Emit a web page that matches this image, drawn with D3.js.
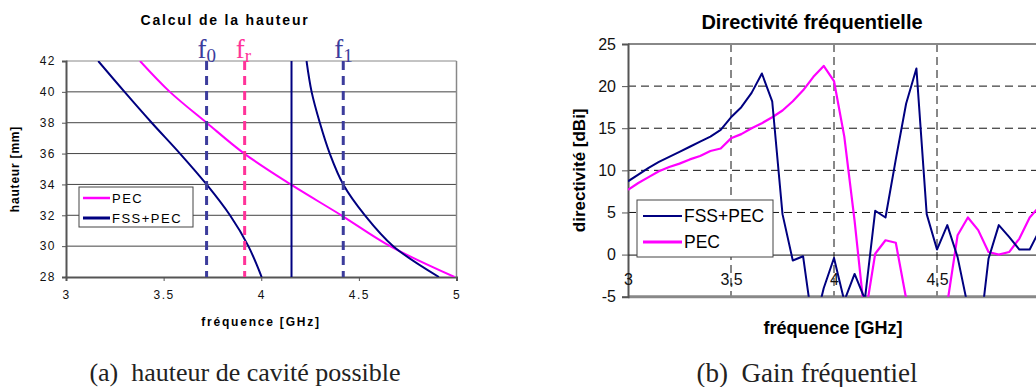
<!DOCTYPE html>
<html>
<head>
<meta charset="utf-8">
<script src="https://cdn.jsdelivr.net/npm/d3@7"></script>
<style>
    body { margin: 0; background: #fff; }
    text { font-family: "Liberation Sans", Arial, sans-serif; }
</style>
</head>
<body>
<div id="figure"></div>
<script>
// ---- (a) cavity height vs frequency ----
var heights = [42, 40, 38, 36, 34, 32, 30, 28];            // mm
var pecFreq = [3.379, 3.532, 3.72, 3.913, 4.151, 4.41, 4.66, 4.99];
var fssLowFreq = [3.165, 3.30, 3.439, 3.584, 3.72, 3.84, 3.934, 4.002];
var fssHighFreq = [4.232, 4.258, 4.30, 4.351, 4.42, 4.531, 4.676, 4.91];
var fssCutoff = 4.155;                                      // vertical asymptote
var markers = [
    {name: "0", f: 3.72, color: "#3c3c9c"},
    {name: "r", f: 3.915, color: "#ff3399"},
    {name: "1", f: 4.42, color: "#3c3c9c"}
];
var heightTicks = [28, 30, 32, 34, 36, 38, 40, 42];
var freqTicksA = [3, 3.5, 4, 4.5, 5];

// ---- (b) directivity vs frequency ----
var freqs = [3.00, 3.05, 3.10, 3.15, 3.20, 3.25, 3.30, 3.35, 3.40, 3.45,
             3.50, 3.55, 3.60, 3.65, 3.70, 3.75, 3.80, 3.85, 3.90, 3.95,
             4.00, 4.05, 4.10, 4.15, 4.20, 4.25, 4.30, 4.35, 4.40, 4.45,
             4.50, 4.55, 4.60, 4.65, 4.70, 4.75, 4.80, 4.85, 4.90, 4.95, 5.00];
var dirFss = [8.7, 9.5, 10.3, 11.0, 11.6, 12.2, 12.8, 13.4, 14.0, 14.8,
              16.3, 17.5, 19.2, 21.5, 18.2, 4.8, -0.7, -0.2, -9.0, -4.0,
              -0.4, -5.5, -2.3, -5.3, 5.2, 4.4, 11.3, 17.9, 22.1, 4.8,
              0.6, 3.5, -0.3, -6.2, -11.0, -0.5, 3.5, 2.1, 0.6, 0.6, 3.0];
var dirPec = [7.7, 8.5, 9.2, 9.9, 10.4, 10.8, 11.3, 11.7, 12.3, 12.6,
              13.8, 14.3, 15.0, 15.6, 16.3, 17.1, 18.2, 19.5, 21.1, 22.4,
              20.6, 14.0, 4.0, -7.5, 0.1, 1.7, 1.4, -5.2, -9.0, -12.0,
              -10.0, -5.8, 2.3, 4.4, 2.9, 0.3, 0.0, 0.3, 1.9, 4.4, 5.8];
var dirTicks = [-5, 0, 5, 10, 15, 20, 25];
var freqTicksB = [3, 3.5, 4, 4.5];

function init() {
    var w = 1036;
    var h = 387;
    var navy = "#000080";
    var magenta = "#ff00ff";

    var svg = d3.select("#figure")
                .append("svg")
                .attr("width", w)
                .attr("height", h);

    var defs = svg.append("defs");

    //==================== chart (a) ====================
    var xa = d3.scaleLinear().domain([3, 5]).range([66, 456.5]);
    var ya = d3.scaleLinear().domain([28, 42]).range([277, 61]);

    defs.append("clipPath").attr("id", "clipA")
        .append("rect")
        .attr("x", xa(3)).attr("y", ya(42))
        .attr("width", xa(5) - xa(3)).attr("height", ya(28) - ya(42));

    var ga = svg.append("g");

    //horizontal grid
    ga.selectAll(".gridA")
        .data(heightTicks.slice(1))
        .enter()
        .append("line")
        .attr("x1", xa(3)).attr("x2", xa(5))
        .attr("y1", function(d){ return ya(d); })
        .attr("y2", function(d){ return ya(d); })
        .style("stroke", function(d){ return d == 42 ? "#888" : "#444"; })
        .style("stroke-width", 1);

    //right border
    ga.append("line")
        .attr("x1", xa(5)).attr("x2", xa(5))
        .attr("y1", ya(42)).attr("y2", ya(28))
        .style("stroke", "#888").style("stroke-width", 1.5);

    //axes
    var axisLeftA = d3.axisLeft(ya).tickValues(heightTicks)
                        .tickSize(4).tickPadding(6);
    var axisBottomA = d3.axisBottom(xa).tickValues(freqTicksA)
                        .tickSize(4).tickPadding(9)
                        .tickFormat(function(d){ return String(d); });

    ga.append("g").attr("transform", "translate(" + xa(3) + ",0)")
        .call(axisLeftA)
        .call(styleAxis, 12, "1.5px");
    ga.append("g").attr("transform", "translate(0," + ya(28) + ")")
        .call(axisBottomA)
        .call(styleAxis, 12, "1.5px");

    //curves
    var lineA = d3.line()
                .x(function(d){ return xa(d[0]); })
                .y(function(d){ return ya(d[1]); })
                .curve(d3.curveCatmullRom);

    var curves = [
        {pts: d3.zip(pecFreq, heights), color: magenta},
        {pts: d3.zip(fssLowFreq, heights), color: navy},
        {pts: d3.zip(fssHighFreq, heights), color: navy}
    ];
    var plotA = ga.append("g").attr("clip-path", "url(#clipA)");
    plotA.selectAll(".curveA")
        .data(curves)
        .enter()
        .append("path")
        .attr("d", function(d){ return lineA(d.pts); })
        .style("fill", "none")
        .style("stroke", function(d){ return d.color; })
        .style("stroke-width", 2);

    plotA.append("line")
        .attr("x1", xa(fssCutoff)).attr("x2", xa(fssCutoff))
        .attr("y1", ya(42)).attr("y2", ya(28))
        .style("stroke", navy).style("stroke-width", 2);

    //f0, fr, f1 markers
    ga.selectAll(".marker")
        .data(markers)
        .enter()
        .append("line")
        .attr("x1", function(d){ return xa(d.f); })
        .attr("x2", function(d){ return xa(d.f); })
        .attr("y1", ya(42)).attr("y2", ya(28))
        .style("stroke", function(d){ return d.color; })
        .style("stroke-width", 3)
        .style("stroke-dasharray", "9,6");

    var lab = ga.selectAll(".markerLabel")
        .data(markers)
        .enter()
        .append("text")
        .attr("x", function(d){ return xa(d.f) - 9; })
        .attr("y", 58)
        .style("font-family", "'Liberation Serif', 'Times New Roman', serif")
        .style("font-size", "27px")
        .style("fill", function(d){ return d.color; });
    lab.append("tspan").text("f");
    lab.append("tspan")
        .attr("dy", 4)
        .style("font-size", "19px")
        .text(function(d){ return d.name; });

    //titles
    ga.append("text")
        .attr("x", 225).attr("y", 25)
        .attr("text-anchor", "middle")
        .style("font-size", "14px").style("font-weight", "bold")
        .style("letter-spacing", "1.8px")
        .text("Calcul de la hauteur");

    ga.append("text")
        .attr("transform", "translate(19," + ya(35) + ") rotate(-90)")
        .attr("text-anchor", "middle")
        .style("font-size", "12px").style("font-weight", "bold")
        .style("letter-spacing", "0.8px")
        .text("hauteur [mm]");

    ga.append("text")
        .attr("x", 261).attr("y", 326)
        .attr("text-anchor", "middle")
        .style("font-size", "12px").style("font-weight", "bold")
        .style("letter-spacing", "1.8px")
        .text("fréquence [GHz]");

    //legend
    drawLegend(ga, 79, 187, 114, 40, [
        {label: "PEC", color: magenta, width: 2.5},
        {label: "FSS+PEC", color: navy, width: 3}
    ], 13, "1.5px", 4, 11, 20, 27);

    //caption
    svg.append("text")
        .attr("x", 245).attr("y", 381)
        .attr("text-anchor", "middle")
        .style("font-family", "'Liberation Serif', 'Times New Roman', serif")
        .style("font-size", "26px")
        .style("fill", "#222")
        .text("(a)\u00a0\u00a0hauteur de cavité possible");

    //==================== chart (b) ====================
    var xb = d3.scaleLinear().domain([3, 5]).range([628, 1040]);
    var yb = d3.scaleLinear().domain([-5, 25]).range([296.7, 44]);

    defs.append("clipPath").attr("id", "clipB")
        .append("rect")
        .attr("x", xb(3)).attr("y", yb(25))
        .attr("width", xb(5) - xb(3)).attr("height", yb(-5) - yb(25));

    var gb = svg.append("g");

    //dashed grid
    gb.selectAll(".hgridB")
        .data([5, 10, 15, 20])
        .enter()
        .append("line")
        .attr("x1", xb(3)).attr("x2", xb(5))
        .attr("y1", function(d){ return yb(d); })
        .attr("y2", function(d){ return yb(d); })
        .style("stroke", "#111").style("stroke-width", 1)
        .style("stroke-dasharray", "8,5");

    gb.selectAll(".vgridB")
        .data([3.5, 4, 4.5])
        .enter()
        .append("line")
        .attr("x1", function(d){ return xb(d); })
        .attr("x2", function(d){ return xb(d); })
        .attr("y1", yb(25)).attr("y2", yb(-5))
        .style("stroke", "#111").style("stroke-width", 1)
        .style("stroke-dasharray", "8,5");

    //frame: top and bottom borders
    gb.append("line")
        .attr("x1", xb(3)).attr("x2", xb(5))
        .attr("y1", yb(25)).attr("y2", yb(25))
        .style("stroke", "#888").style("stroke-width", 2);
    gb.append("line")
        .attr("x1", xb(3)).attr("x2", xb(5))
        .attr("y1", yb(-5)).attr("y2", yb(-5))
        .style("stroke", "#888").style("stroke-width", 3);

    //y axis
    var axisLeftB = d3.axisLeft(yb).tickValues(dirTicks)
                        .tickSize(6).tickPadding(6)
                        .tickFormat(function(d){ return String(d); });
    gb.append("g").attr("transform", "translate(" + xb(3) + ",0)")
        .call(axisLeftB)
        .call(styleAxis, 16, "0px");

    //x axis sits on 0 dBi, labels hang below it
    var axisZero = d3.axisBottom(xb).tickValues(freqTicksB)
                        .tickSize(0).tickPadding(19)
                        .tickFormat(function(d){ return String(d).replace(".", ","); });
    var zeroAxis = gb.append("g").attr("transform", "translate(0," + yb(0) + ")")
        .call(axisZero)
        .call(styleAxis, 16, "0px");
    zeroAxis.select(".domain").style("stroke", "#111").style("stroke-width", 1);

    //series
    var lineB = d3.line()
                .x(function(d){ return xb(d[0]); })
                .y(function(d){ return yb(d[1]); });

    var plotB = gb.append("g").attr("clip-path", "url(#clipB)");
    plotB.selectAll(".seriesB")
        .data([
            {pts: d3.zip(freqs, dirPec), color: magenta, width: 2.2},
            {pts: d3.zip(freqs, dirFss), color: navy, width: 2}
        ])
        .enter()
        .append("path")
        .attr("d", function(d){ return lineB(d.pts); })
        .style("fill", "none")
        .style("stroke", function(d){ return d.color; })
        .style("stroke-width", function(d){ return d.width; })
        .style("stroke-linejoin", "round");

    //titles
    gb.append("text")
        .attr("x", 812).attr("y", 29)
        .attr("text-anchor", "middle")
        .style("font-size", "20px").style("font-weight", "bold")
        .text("Directivité fréquentielle");

    gb.append("text")
        .attr("transform", "translate(585," + yb(10) + ") rotate(-90)")
        .attr("text-anchor", "middle")
        .style("font-size", "17px").style("font-weight", "bold")
        .text("directivité [dBi]");

    gb.append("text")
        .attr("x", 833).attr("y", 334)
        .attr("text-anchor", "middle")
        .style("font-size", "18px").style("font-weight", "bold")
        .text("fréquence [GHz]");

    drawLegend(gb, 637, 200, 136, 57, [
        {label: "FSS+PEC", color: navy, width: 2},
        {label: "PEC", color: magenta, width: 3}
    ], 17.5, "0px", 6, 16, 26, 39);

    svg.append("text")
        .attr("x", 807).attr("y", 382)
        .attr("text-anchor", "middle")
        .style("font-family", "'Liberation Serif', 'Times New Roman', serif")
        .style("font-size", "27px")
        .style("fill", "#222")
        .text("(b)\u00a0\u00a0Gain fréquentiel");

    //---------------------------FUNCTIONS------------------------

    //axis look: dark line, small ticks
    function styleAxis(g, size, spacing) {
        g.select(".domain").style("stroke", "#555").style("stroke-width", 2);
        g.selectAll(".tick line").style("stroke", "#555");
        g.selectAll(".tick text")
            .style("font-family", "'Liberation Sans', Arial, sans-serif")
            .style("font-size", size + "px")
            .style("letter-spacing", spacing)
            .style("fill", "#111");
    }

    //boxed legend with short line samples
    //inset = sample start from box edge, first = centre of row 1, step = row gap
    function drawLegend(g, x, y, bw, bh, items, size, spacing, inset, first, step, sample) {
        var lg = g.append("g").attr("transform", "translate(" + x + "," + y + ")");
        lg.append("rect")
            .attr("width", bw).attr("height", bh)
            .style("fill", "#fff").style("stroke", "#444").style("stroke-width", 1);
        var row = lg.selectAll(".row")
            .data(items)
            .enter()
            .append("g")
            .attr("transform", function(d, i){ return "translate(" + inset + "," + (first + i * step) + ")"; });
        row.append("line")
            .attr("x1", 0).attr("x2", sample)
            .style("stroke", function(d){ return d.color; })
            .style("stroke-width", function(d){ return d.width; });
        row.append("text")
            .attr("x", sample + 2).attr("dy", "0.36em")
            .style("font-size", size + "px")
            .style("letter-spacing", spacing)
            .text(function(d){ return d.label; });
    }
}

window.onload = init;
</script>
</body>
</html>
